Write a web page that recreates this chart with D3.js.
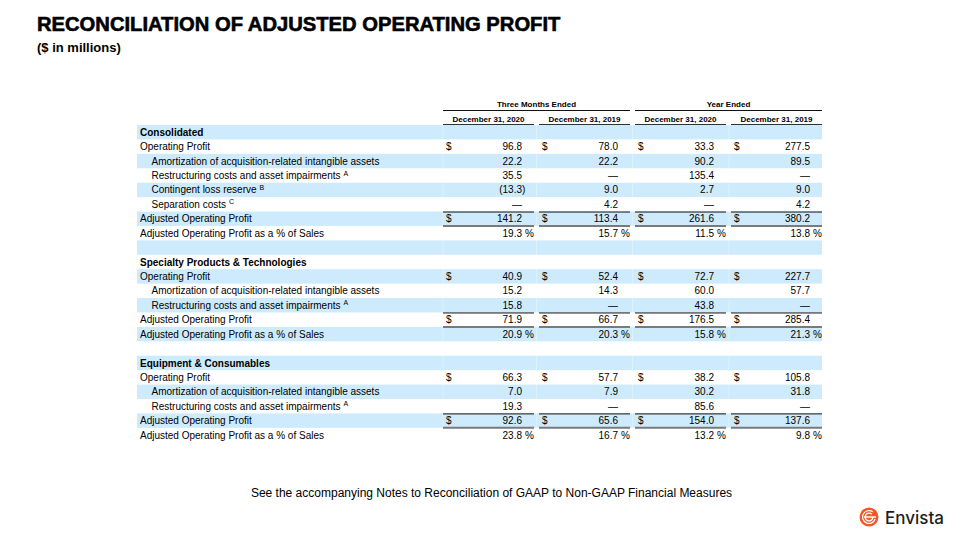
<!DOCTYPE html>
<html>
<head>
<meta charset="utf-8">
<script src="https://cdn.jsdelivr.net/npm/d3@7"></script>
<style>
  html, body { margin: 0; padding: 0; background: #fff; }
  svg { display: block; font-family: "Liberation Sans", Arial, sans-serif; }
</style>
</head>
<body>
<svg id="chart" width="960" height="540"></svg>
<script>
// ---------- DATA ----------
const title = "RECONCILIATION OF ADJUSTED OPERATING PROFIT";
const subtitle = "($ in millions)";
const footnote = "See the accompanying Notes to Reconciliation of GAAP to Non-GAAP Financial Measures";
const groupHeaders = ["Three Months Ended", "Year Ended"];
const columnHeaders = ["December 31, 2020", "December 31, 2019", "December 31, 2020", "December 31, 2019"];
const columnKeys = ["q2020", "q2019", "y2020", "y2019"];

// row kinds: section, main, indent, total, pct, blank
const rowLabels = [
  "Consolidated", "Operating Profit", "Amortization of acquisition-related intangible assets",
  "Restructuring costs and asset impairments", "Contingent loss reserve", "Separation costs",
  "Adjusted Operating Profit", "Adjusted Operating Profit as a % of Sales", "",
  "Specialty Products & Technologies", "Operating Profit", "Amortization of acquisition-related intangible assets",
  "Restructuring costs and asset impairments", "Adjusted Operating Profit", "Adjusted Operating Profit as a % of Sales", "",
  "Equipment & Consumables", "Operating Profit", "Amortization of acquisition-related intangible assets",
  "Restructuring costs and asset impairments", "Adjusted Operating Profit", "Adjusted Operating Profit as a % of Sales"
];
const rowKinds = [
  "section", "main", "indent", "indent", "indent", "indent", "total", "pct", "blank",
  "section", "main", "indent", "indent", "total", "pct", "blank",
  "section", "main", "indent", "indent", "total", "pct"
];
const rowNotes = ["", "", "", "A", "B", "C", "", "", "", "", "", "", "A", "", "", "", "", "", "", "A", "", ""];
const rowDollar = [false, true, false, false, false, false, true, false, false,
  false, true, false, false, true, false, false,
  false, true, false, false, true, false];

// values per column (null = em dash, undefined = empty)
const q2020 = [undefined, 96.8, 22.2, 35.5, -13.3, null, 141.2, 19.3, undefined,
  undefined, 40.9, 15.2, 15.8, 71.9, 20.9, undefined,
  undefined, 66.3, 7.0, 19.3, 92.6, 23.8];
const q2019 = [undefined, 78.0, 22.2, null, 9.0, 4.2, 113.4, 15.7, undefined,
  undefined, 52.4, 14.3, null, 66.7, 20.3, undefined,
  undefined, 57.7, 7.9, null, 65.6, 16.7];
const y2020 = [undefined, 33.3, 90.2, 135.4, 2.7, null, 261.6, 11.5, undefined,
  undefined, 72.7, 60.0, 43.8, 176.5, 15.8, undefined,
  undefined, 38.2, 30.2, 85.6, 154.0, 13.2];
const y2019 = [undefined, 277.5, 89.5, null, 9.0, 4.2, 380.2, 13.8, undefined,
  undefined, 227.7, 57.7, null, 285.4, 21.3, undefined,
  undefined, 105.8, 31.8, null, 137.6, 9.8];
const seriesValues = { q2020, q2019, y2020, y2019 };

// ---------- DRAW ----------
const svg = d3.select("#chart");
const BLUE = "#cdebfc";

// Title
svg.append("text").attr("x", 37).attr("y", 31)
  .attr("font-size", 20.2).attr("font-weight", 700)
  .attr("stroke", "#000").attr("stroke-width", 0.6).attr("fill", "#000")
  .text(title);
svg.append("text").attr("x", 37).attr("y", 52)
  .attr("font-size", 13).attr("font-weight", 700).attr("fill", "#000")
  .text(subtitle);

// Scales
const nRows = rowLabels.length;
const pitch = 14.42;
const yTop = 125;
const y = d3.scaleBand().domain(d3.range(nRows)).range([yTop, yTop + nRows * pitch]).padding(0);
const x = d3.scaleBand().domain(columnKeys).range([443, 822]).paddingInner(0.052).paddingOuter(0);
const tableLeft = 137, tableRight = 822;

// Row bands
svg.append("g").selectAll("rect")
  .data(d3.range(nRows).filter(i => i % 2 === 0))
  .join("rect")
  .attr("x", tableLeft).attr("width", tableRight - tableLeft)
  .attr("y", i => y(i)).attr("height", y.bandwidth())
  .attr("fill", BLUE);

// faint column dividers in blue bands
const divX = [443, 534 + 2.5, 630 + 2.5, 726 + 3];
svg.append("g").selectAll("line")
  .data(divX).join("line")
  .attr("x1", d => d).attr("x2", d => d)
  .attr("y1", yTop).attr("y2", yTop + nRows * pitch)
  .attr("stroke", "#fff").attr("stroke-opacity", 0.35).attr("stroke-width", 1);

// Group headers
const groups = [
  { label: groupHeaders[0], x0: x("q2020"), x1: x("q2019") + x.bandwidth() },
  { label: groupHeaders[1], x0: x("y2020"), x1: x("y2019") + x.bandwidth() }
];
const gh = svg.append("g");
gh.selectAll("text").data(groups).join("text")
  .attr("x", d => (d.x0 + d.x1) / 2).attr("y", 107)
  .attr("text-anchor", "middle").attr("font-size", 8).attr("font-weight", 700)
  .text(d => d.label);
gh.selectAll("line").data(groups).join("line")
  .attr("x1", d => d.x0).attr("x2", d => d.x1)
  .attr("y1", 110.5).attr("y2", 110.5)
  .attr("stroke", "#111").attr("stroke-width", 1);

// Column headers
const ch = svg.append("g");
ch.selectAll("text").data(columnKeys).join("text")
  .attr("x", d => x(d) + x.bandwidth() / 2).attr("y", 122)
  .attr("text-anchor", "middle").attr("font-size", 8).attr("font-weight", 700)
  .text((d, i) => columnHeaders[i]);
ch.selectAll("line").data(columnKeys).join("line")
  .attr("x1", d => x(d)).attr("x2", d => x(d) + x.bandwidth())
  .attr("y1", 124.5).attr("y2", 124.5)
  .attr("stroke", "#333").attr("stroke-width", 1);

// Row labels
const labels = svg.append("g").attr("font-size", 10).attr("fill", "#000");
d3.range(nRows).forEach(i => {
  if (rowKinds[i] === "blank") return;
  const t = labels.append("text")
    .attr("x", rowKinds[i] === "indent" ? 151.5 : 140)
    .attr("y", y(i) + y.bandwidth() / 2 + 3.6)
    .attr("font-weight", rowKinds[i] === "section" ? 700 : 400)
    .text(rowLabels[i]);
  if (rowNotes[i]) {
    t.append("tspan").attr("dx", 3).attr("dy", -3.5).attr("font-size", 7).text(rowNotes[i]);
  }
});

// Values
const fmt = d3.format(".1f");
const cells = svg.append("g").attr("font-size", 10).attr("fill", "#000");
columnKeys.forEach(k => {
  const left = x(k), right = x(k) + x.bandwidth();
  const numRight = right - 12;
  seriesValues[k].forEach((v, i) => {
    if (v === undefined) return;
    const yy = y(i) + y.bandwidth() / 2 + 3.6;
    if (rowDollar[i]) {
      cells.append("text").attr("x", left + 3).attr("y", yy).text("$");
    }
    if (v === null) {
      cells.append("text").attr("x", numRight).attr("y", yy).attr("text-anchor", "end").text("—");
    } else if (v < 0) {
      cells.append("text").attr("x", numRight).attr("y", yy).attr("text-anchor", "end").text("(" + fmt(-v));
      cells.append("text").attr("x", numRight).attr("y", yy).text(")");
    } else {
      cells.append("text").attr("x", numRight).attr("y", yy).attr("text-anchor", "end").text(fmt(v));
      if (rowKinds[i] === "pct") {
        cells.append("text").attr("x", numRight + 3).attr("y", yy).text("%");
      }
    }
  });
});

// Total rules
const totalRows = d3.range(nRows).filter(i => rowKinds[i] === "total");
const rules = svg.append("g");
totalRows.forEach(i => {
  columnKeys.forEach(k => {
    rules.append("line")
      .attr("x1", x(k)).attr("x2", x(k) + x.bandwidth())
      .attr("y1", y(i) + 0.5).attr("y2", y(i) + 0.5)
      .attr("stroke", "#111").attr("stroke-width", 1);
    rules.append("line")
      .attr("x1", x(k)).attr("x2", x(k) + x.bandwidth())
      .attr("y1", y(i) + y.bandwidth()).attr("y2", y(i) + y.bandwidth())
      .attr("stroke", "#7a7a7a").attr("stroke-width", 2);
  });
});

// Footnote
svg.append("text").attr("x", 491.5).attr("y", 497)
  .attr("text-anchor", "middle").attr("font-size", 12).attr("fill", "#000")
  .text(footnote);

// Logo
const logo = svg.append("g").attr("transform", "translate(869,517)");
logo.append("circle").attr("r", 9.5).attr("fill", "#f05a28");
const arc = d3.arc();
logo.append("path")
  .attr("d", arc({ innerRadius: 3.2, outerRadius: 4.6, startAngle: Math.PI * 0.5, endAngle: Math.PI * 2.25 }))
  .attr("fill", "#fff");
logo.append("path")
  .attr("d", arc({ innerRadius: 5.8, outerRadius: 7.0, startAngle: Math.PI * 0.6, endAngle: Math.PI * 2.2 }))
  .attr("fill", "#fff");
logo.append("rect").attr("x", -4.6).attr("y", -0.7).attr("width", 11.5).attr("height", 1.4).attr("fill", "#fff");
svg.append("text").attr("x", 885).attr("y", 523.5)
  .attr("font-family", "Inter, Roboto, sans-serif").attr("font-weight", 500)
  .attr("font-size", 17).attr("fill", "#1d1d1d")
  .text("Envista");
</script>
</body>
</html>
